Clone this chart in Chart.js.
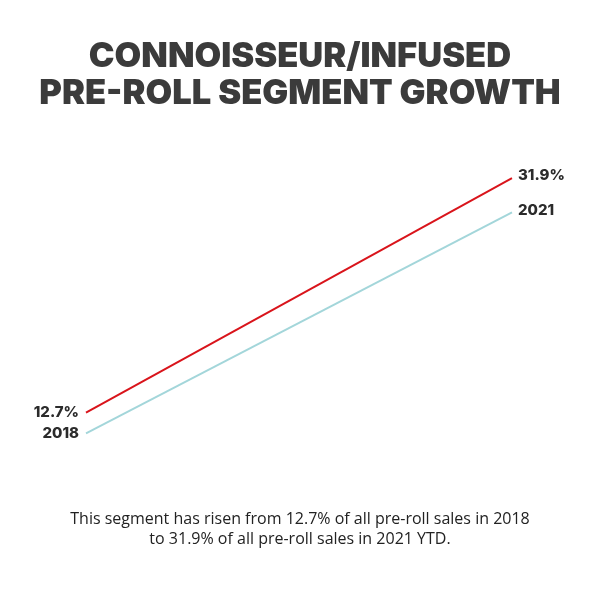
<!DOCTYPE html>
<html>
<head>
<meta charset="utf-8">
<script src="https://cdn.jsdelivr.net/npm/chart.js@4"></script>
<style>
html,body{margin:0;padding:0;background:#fff;}
#wrap{width:600px;height:600px;position:relative;}
</style>
</head>
<body>
<div id="wrap"><canvas id="c" width="600" height="600"></canvas></div>
<script>
const years = ['2018', '2021'];
const shareValues = [12.7, 31.9];
const shareLabels = ['12.7%', '31.9%'];
const yearLineValues = [11.0, 29.1];
const titleLines = ['CONNOISSEUR/INFUSED', 'PRE-ROLL SEGMENT GROWTH'];
const captionLines = ['This segment has risen from 12.7% of all pre-roll sales in 2018', 'to 31.9% of all pre-roll sales in 2021 YTD.'];

const textPlugin = {
  id: 'texts',
  afterDraw(chart) {
    const ctx = chart.ctx;
    ctx.save();
    ctx.textBaseline = 'middle';
    // title
    ctx.fillStyle = '#3b3b3b';
    ctx.textAlign = 'center';
    ctx.font = '900 34.5px Inter';
    ctx.fillText(titleLines[0], 300, 57);
    ctx.fillText(titleLines[1], 300, 94);
    // caption
    ctx.fillStyle = '#222';
    ctx.font = '400 16px "Open Sans"';
    ctx.fillText(captionLines[0], 300, 519);
    ctx.fillText(captionLines[1], 300, 539);
    // point labels
    ctx.fillStyle = '#2b2b2b';
    ctx.font = '800 15px Inter';
    const m0 = chart.getDatasetMeta(0).data;
    const m1 = chart.getDatasetMeta(1).data;
    ctx.textAlign = 'right';
    ctx.fillText(shareLabels[0], m0[0].x - 7, m0[0].y);
    ctx.fillText(years[0], m1[0].x - 7, m1[0].y);
    ctx.textAlign = 'left';
    ctx.fillText(shareLabels[1], m0[1].x + 6, m0[1].y - 3);
    ctx.fillText(years[1], m1[1].x + 6, m1[1].y - 2);
    ctx.restore();
  }
};

new Chart(document.getElementById('c'), {
  type: 'line',
  data: {
    labels: years,
    datasets: [
      { data: shareValues, borderColor: '#d9141b', borderWidth: 2, pointRadius: 0, tension: 0 },
      { data: yearLineValues, borderColor: '#a3d6da', borderWidth: 2, pointRadius: 0, tension: 0 }
    ]
  },
  options: {
    responsive: false,
    animation: false,
    layout: { padding: { top: 150, bottom: 130, left: 86, right: 88 } },
    plugins: { legend: { display: false }, tooltip: { enabled: false }, title: { display: false } },
    scales: {
      x: { display: false, offset: false },
      y: { display: false, min: 8, max: 34.2 }
    }
  },
  plugins: [textPlugin]
});
</script>
</body>
</html>
